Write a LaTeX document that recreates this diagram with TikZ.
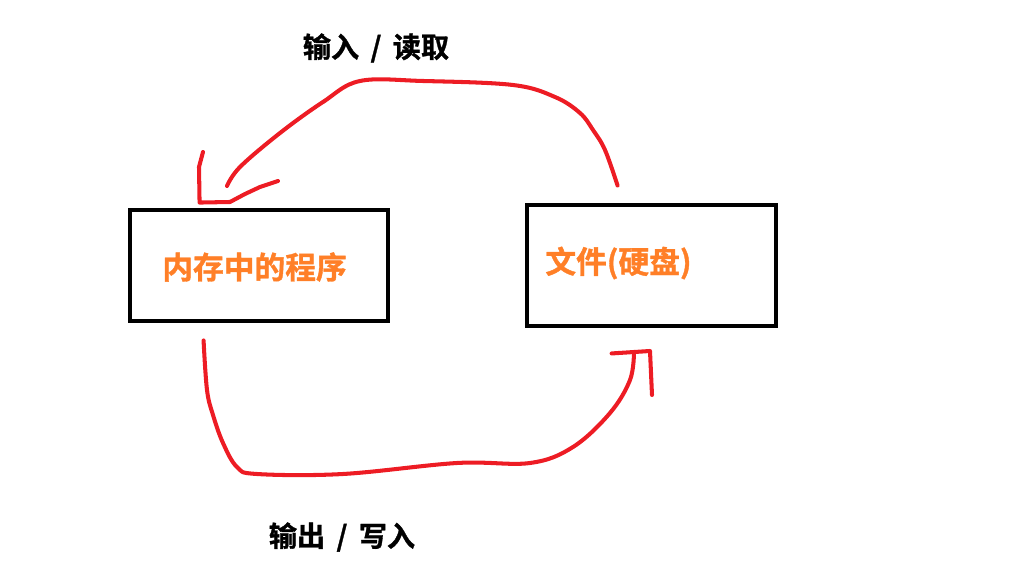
\documentclass[tikz,border=0pt]{standalone}
\usepackage{fontspec}
\newfontfamily\cjk{Noto Sans CJK SC}[BoldFont={Noto Sans CJK SC Bold}, BoldFeatures={FakeBold=1.2}]
\usepackage{xcolor}
\usetikzlibrary{calc}
\definecolor{paintred}{HTML}{ED1C24}
\definecolor{paintorange}{HTML}{FF7F27}

\begin{document}
\begin{tikzpicture}[x=0.02cm, y=-0.02cm,
    box/.style={draw=black, line width=2.8pt, minimum width=5.16cm, minimum height=2.22cm, inner sep=0pt},
    boxtext/.style={font=\cjk\bfseries\fontsize{17.5pt}{20pt}\selectfont, text=paintorange, inner sep=0pt},
    label/.style={font=\cjk\bfseries\fontsize{16pt}{19pt}\selectfont, text=black, inner sep=0pt},
    stroke/.style={draw=paintred, line width=2.3pt, line cap=round, line join=round}]
    \useasboundingbox (0,0) rectangle (1014,570);

    % Boxes
    \node[box] (prog) at (259,265.5) {};
    \node[box, minimum width=4.98cm, minimum height=2.42cm] (disk) at (651.5,265.5) {};
    \node[boxtext] (progtext) at (254.5,267) {内存中的程序};
    \node[boxtext, anchor=west] (disktext) at (545,263) {文件(硬盘)};

    % Labels
    \node[label] (readlbl) at (376,48) {输入\hspace{6.5pt}/\hspace{6.5pt}读取};
    \node[label] (writelbl) at (342,537) {输出\hspace{6.5pt}/\hspace{6.5pt}写入};

    % Read: disk -> program
    \coordinate (r0) at ($(disk.north west)+(93,-17)$);
    \draw[stroke] plot[smooth, tension=0.6] coordinates {(r0) (605,150) (593,130) (580,113) (555,97) (513,85) (423,81) (360,81) (323,102) (280,133) (240,167) (227,186)};
    \coordinate (ra) at ($(prog.north west)+(72,-5)$);
    \draw[stroke] (203,152) -- (199,167) -- (ra) -- (230,202) -- (245,194) -- (260,187) -- (278,181);

    % Write: program -> disk
    \coordinate (w0) at ($(prog.south west)+(76,17)$);
    \draw[stroke] plot[smooth, tension=0.6] coordinates {(w0) (207,390) (213,415) (223,443) (237,467) (257,474) (343,474) (457,463) (530,463) (573,447) (610,413) (630,380) (634,352)};
    \coordinate (wa) at ($(disk.south west)+(87,25)$);
    \draw[stroke] (wa) -- (650,351) -- (652,395);
\end{tikzpicture}
\end{document}
